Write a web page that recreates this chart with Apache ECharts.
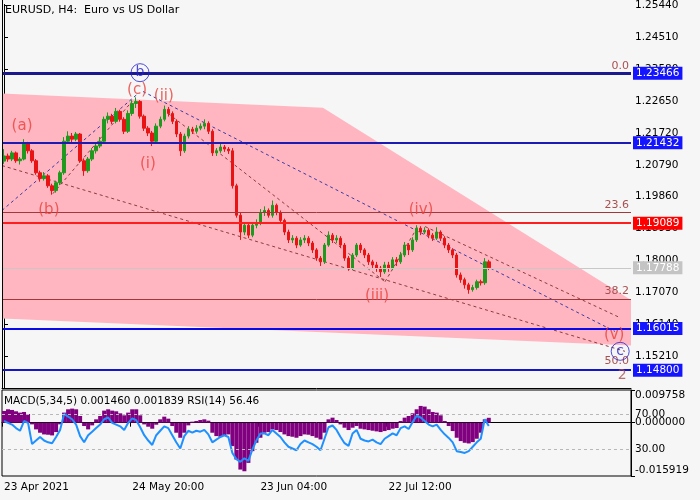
<!DOCTYPE html>
<html>
<head>
<meta charset="utf-8">
<script src="https://cdn.jsdelivr.net/npm/echarts@6/dist/echarts.min.js"></script>
<style>
html, body { margin: 0; padding: 0; background: #f6f6f6; }
#main { width: 700px; height: 500px; }
</style>
</head>
<body>
<div id="main"></div>
<script>
// EURUSD H4 - each candle here groups ~4 real H4 bars
var chartTitle = 'EURUSD, H4:  Euro vs US Dollar';
var indicatorTitle = 'MACD(5,34,5) 0.001460 0.001839 RSI(14) 56.46';
var barSlots = 157;
var timeLabels = ['23 Apr 2021', '24 May 20:00', '23 Jun 04:00', '22 Jul 12:00'];
var timeLabelBars = [0, 32, 64, 96];

// [open, close, low, high]
var candles = [
  [1.2090,1.2105,1.2082,1.2125],[1.2105,1.2096,1.2088,1.2112],[1.2096,1.2114,1.2090,1.2120],[1.2114,1.2091,1.2085,1.2118],[1.2091,1.2096,1.2080,1.2102],
  [1.2096,1.2140,1.2092,1.2154],[1.2140,1.2120,1.2112,1.2146],[1.2120,1.2091,1.2085,1.2125],[1.2091,1.2056,1.2050,1.2096],[1.2056,1.2039,1.2030,1.2062],
  [1.2039,1.2047,1.2033,1.2058],[1.2047,1.2018,1.2012,1.2052],[1.2018,1.2004,1.1992,1.2024],[1.2004,1.2027,1.1998,1.2033],[1.2027,1.2056,1.2020,1.2062],
  [1.2056,1.2148,1.2050,1.2160],[1.2148,1.2163,1.2140,1.2177],[1.2163,1.2154,1.2145,1.2172],[1.2154,1.2169,1.2148,1.2175],[1.2169,1.2091,1.2085,1.2172],
  [1.2091,1.2062,1.2047,1.2098],[1.2062,1.2096,1.2056,1.2102],[1.2096,1.2120,1.2090,1.2128],[1.2120,1.2134,1.2112,1.2142],[1.2134,1.2148,1.2128,1.2160],
  [1.2148,1.2212,1.2142,1.2220],[1.2212,1.2221,1.2200,1.2232],[1.2221,1.2206,1.2198,1.2228],[1.2206,1.2235,1.2200,1.2245],[1.2235,1.2212,1.2205,1.2240],
  [1.2212,1.2177,1.2169,1.2218],[1.2177,1.2229,1.2172,1.2238],[1.2229,1.2258,1.2222,1.2268],[1.2258,1.2264,1.2245,1.2276],[1.2264,1.2221,1.2214,1.2268],
  [1.2221,1.2186,1.2178,1.2226],[1.2186,1.2172,1.2163,1.2192],[1.2172,1.2148,1.2134,1.2178],[1.2148,1.2192,1.2142,1.2200],[1.2192,1.2212,1.2186,1.2220],
  [1.2212,1.2241,1.2206,1.2252],[1.2241,1.2229,1.2220,1.2248],[1.2229,1.2206,1.2198,1.2235],[1.2206,1.2169,1.2160,1.2212],[1.2169,1.2120,1.2105,1.2175],
  [1.2120,1.2163,1.2114,1.2170],[1.2163,1.2183,1.2156,1.2192],[1.2183,1.2177,1.2169,1.2190],[1.2177,1.2186,1.2170,1.2195],[1.2186,1.2192,1.2180,1.2200],
  [1.2192,1.2200,1.2183,1.2212],[1.2200,1.2177,1.2169,1.2206],[1.2177,1.2114,1.2105,1.2183],[1.2114,1.2120,1.2105,1.2128],[1.2120,1.2131,1.2114,1.2140],
  [1.2131,1.2125,1.2117,1.2137],[1.2125,1.2120,1.2111,1.2131],[1.2120,1.2018,1.2010,1.2128],[1.2018,1.1932,1.1925,1.2024],[1.1932,1.1883,1.1860,1.1940],
  [1.1883,1.1903,1.1874,1.1911],[1.1903,1.1874,1.1865,1.1911],[1.1874,1.1903,1.1868,1.1911],[1.1903,1.1911,1.1894,1.1920],[1.1911,1.1940,1.1903,1.1950],
  [1.1940,1.1946,1.1930,1.1958],[1.1946,1.1932,1.1925,1.1952],[1.1932,1.1961,1.1925,1.1975],[1.1961,1.1940,1.1932,1.1966],[1.1940,1.1917,1.1909,1.1946],
  [1.1917,1.1883,1.1874,1.1922],[1.1883,1.1860,1.1851,1.1890],[1.1860,1.1865,1.1851,1.1874],[1.1865,1.1845,1.1836,1.1871],[1.1845,1.1860,1.1840,1.1868],
  [1.1860,1.1865,1.1851,1.1874],[1.1865,1.1851,1.1842,1.1871],[1.1851,1.1831,1.1822,1.1857],[1.1831,1.1807,1.1799,1.1836],[1.1807,1.1796,1.1784,1.1813],
  [1.1796,1.1845,1.1790,1.1851],[1.1845,1.1874,1.1840,1.1885],[1.1874,1.1860,1.1851,1.1880],[1.1860,1.1865,1.1851,1.1874],[1.1865,1.1845,1.1836,1.1871],
  [1.1845,1.1807,1.1799,1.1851],[1.1807,1.1778,1.1770,1.1813],[1.1778,1.1816,1.1772,1.1822],[1.1816,1.1845,1.1810,1.1851],[1.1845,1.1831,1.1822,1.1851],
  [1.1831,1.1816,1.1807,1.1836],[1.1816,1.1796,1.1787,1.1822],[1.1796,1.1787,1.1778,1.1802],[1.1787,1.1778,1.1767,1.1796],[1.1778,1.1767,1.1752,1.1784],
  [1.1767,1.1787,1.1761,1.1796],[1.1787,1.1778,1.1767,1.1796],[1.1778,1.1802,1.1772,1.1810],[1.1802,1.1796,1.1784,1.1810],[1.1796,1.1816,1.1790,1.1825],
  [1.1816,1.1845,1.1810,1.1854],[1.1845,1.1831,1.1816,1.1851],[1.1831,1.1860,1.1825,1.1868],[1.1860,1.1894,1.1854,1.1903],[1.1894,1.1883,1.1874,1.1900],
  [1.1883,1.1888,1.1877,1.1897],[1.1888,1.1874,1.1865,1.1894],[1.1874,1.1865,1.1857,1.1880],[1.1865,1.1883,1.1860,1.1897],[1.1883,1.1865,1.1857,1.1888],
  [1.1865,1.1845,1.1836,1.1871],[1.1845,1.1831,1.1822,1.1851],[1.1831,1.1816,1.1807,1.1836],[1.1816,1.1758,1.1750,1.1822],[1.1758,1.1744,1.1735,1.1765],
  [1.1744,1.1729,1.1718,1.1750],[1.1729,1.1715,1.1703,1.1735],[1.1715,1.1721,1.1709,1.1729],[1.1721,1.1738,1.1715,1.1744],[1.1738,1.1735,1.1727,1.1744],
  [1.1735,1.1796,1.1729,1.1807],[1.1796,1.1779,1.1772,1.1802]
];

var macdHist = [
  0.0035, 0.0040, 0.0038, 0.0034, 0.0030, 0.0032, 0.0026, -0.0005, -0.0020, -0.0030,
  -0.0035, -0.0036, -0.0038, -0.0028, -0.0005, 0.0030, 0.0040, 0.0042, 0.0040, 0.0020,
  -0.0010, -0.0020, -0.0008, 0.0010, 0.0020, 0.0036, 0.0040, 0.0036, 0.0034, 0.0028,
  0.0022, 0.0030, 0.0040, 0.0040, 0.0022, -0.0005, -0.0012, -0.0018, -0.0006, 0.0010,
  0.0018, 0.0012, -0.0010, -0.0030, -0.0045, -0.0030, -0.0008, 0.0003, 0.0005, 0.0008,
  0.0010, 0.0006, -0.0030, -0.0040, -0.0042, -0.0038, -0.0035, -0.0070, -0.0110, -0.0140,
  -0.0145, -0.0120, -0.0085, -0.0060, -0.0045, -0.0030, -0.0028, -0.0020, -0.0022, -0.0028,
  -0.0035, -0.0040, -0.0042, -0.0045, -0.0040, -0.0035, -0.0036, -0.0040, -0.0045, -0.0050,
  -0.0030, 0.0010, 0.0015, 0.0008, -0.0005, -0.0015, -0.0022, -0.0015, -0.0010, -0.0018,
  -0.0020, -0.0022, -0.0024, -0.0026, -0.0028, -0.0025, -0.0022, -0.0018, -0.0016, 0.0005,
  0.0015, 0.0020, 0.0028, 0.0040, 0.0050, 0.0048, 0.0040, 0.0032, 0.0030, 0.0022,
  0.0005, -0.0010, -0.0025, -0.0045, -0.0055, -0.0060, -0.0062, -0.0058, -0.0048, -0.0030,
  0.0010, 0.00146
];

var rsi = [
  62, 60, 58, 54, 51, 62, 60, 36, 40, 44,
  40, 38, 37, 44, 52, 70, 67, 64, 58, 45,
  38, 46, 50, 54, 58, 64, 66, 60, 58, 56,
  52, 60, 65, 63, 55, 46, 40, 35, 46, 51,
  56, 54, 46, 38, 31, 45, 51, 49, 51, 50,
  52, 47, 38, 41, 44, 46, 44, 26, 19, 16,
  20, 17, 30, 40, 48, 48, 46, 52, 48, 44,
  38, 33, 31, 29, 36, 40, 38, 36, 33, 29,
  42, 55, 57, 52, 44, 37, 34, 48, 52, 42,
  40, 39, 41, 38, 36, 42, 45, 48, 46, 54,
  56, 53, 61, 68, 66, 62, 58, 56, 58, 52,
  47, 43, 38, 28, 27, 26, 28, 33, 38, 42,
  64, 56.46
];

var priceMin = 1.14280, priceMax = 1.25470, priceStep = 0.0093;
var macdMin = -0.015919, macdMax = 0.009758;
var rsiMax = 97;
var rsiLevels = [70, 30];

// horizontal support / resistance lines
var levelPrices = [1.23466, 1.21432, 1.19089, 1.16015, 1.14800];
var levelColors = ['#1a1a8e', '#1c1cb4', '#ff1e1e', '#0a0ae6', '#1414c8'];
var levelBoxColors = ['#1414ff', '#1414ff', '#ff0000', '#1414ff', '#1414ff'];
var levelWidths = [3, 2, 2, 2, 2];
var bidPrice = 1.17788;

var fibNames = ['0.0', '23.6', '38.2', '50.0'];
var fibPrices = [1.23466, 1.19395, 1.16880, 1.14840];

// pink zone outline, [bar position, price]
var zoneBars = [-0.5, 79.6, 156.5, 156.5, -0.5];
var zonePrices = [1.2287, 1.2246, 1.1685, 1.1552, 1.1631];

// dashed wave lines: [bar1, price1, bar2, price2, colour 0 = blue, 1 = brown]
var waveLines = [
  [-0.5, 1.1946, 33.45, 1.2287, 0],
  [34.7, 1.2293, 152.5, 1.1593, 0],
  [-0.5, 1.2077, 155.0, 1.1535, 1],
  [41.0, 1.2229, 95.1, 1.1738, 1],
  [95.1, 1.1738, 103.3, 1.1899, 1],
  [105.1, 1.1899, 153.8, 1.1633, 1],
  [12.2, 1.1995, 31.95, 1.2264, 1]
];

var waveTexts = ['(a)', '(b)', '(c)', '(i)', '(ii)', '(iii)', '(iv)', '(v)'];
var waveBars = [4.5, 11.2, 33.2, 35.9, 39.9, 93.1, 104.1, 152.3];
var wavePrices = [1.2191, 1.1946, 1.2298, 1.2082, 1.2281, 1.1697, 1.1946, 1.1581];

var circleTexts = ['b', 'c'];
var circleBars = [33.95, 153.8];
var circlePrices = [1.2348, 1.1535];

// small fib tag under the 50.0 level
var fibTagText = '2';
var fibTagBar = 154.3;
var fibTagPrice = 1.1466;

var cats = [];
for (var i = 0; i < barSlots; i++) cats.push(String(i));

function isTimeLabel(index) { return timeLabelBars.indexOf(index) >= 0; }

var chart = echarts.init(document.getElementById('main'));

var font = 'DejaVu Sans';
var lineColors = ['#3a3aa8', '#8c3c3c'];

chart.setOption({
  animation: false,
  backgroundColor: '#f6f6f6',
  textStyle: { fontFamily: font },
  grid: [
    { left: 2, top: 2, width: 629, height: 386, show: false },
    { left: 2, top: 390, width: 629, height: 86, show: true, borderColor: '#000', borderWidth: 1, backgroundColor: 'transparent' }
  ],
  graphic: [
    { type: 'line', z: 100, shape: { x1: 2.5, y1: 0, x2: 2.5, y2: 388 }, style: { stroke: '#000', lineWidth: 1 }, silent: true },
    { type: 'text', left: 5, top: 5, style: { text: chartTitle, font: '11px "DejaVu Sans"', fill: '#000' } },
    { type: 'text', left: 4, top: 396, style: { text: indicatorTitle, font: '10.5px "DejaVu Sans"', fill: '#000' } }
  ],
  xAxis: [
    { type: 'category', gridIndex: 0, data: cats, boundaryGap: true,
      axisLine: { show: true, lineStyle: { color: '#000', width: 1 } },
      axisTick: { show: false }, axisLabel: { show: false }, splitLine: { show: false } },
    { type: 'value', gridIndex: 0, min: -0.5, max: barSlots - 0.5, show: false },
    { type: 'category', gridIndex: 1, data: cats, boundaryGap: true,
      axisLine: { show: true, lineStyle: { color: '#000' } },
      axisTick: { show: true, interval: isTimeLabel, length: 4, lineStyle: { color: '#000' } },
      axisLabel: { show: true, interval: isTimeLabel, align: 'left', margin: 6, color: '#000', fontSize: 10.5,
        formatter: function (v, idx) { var k = timeLabelBars.indexOf(idx); return k >= 0 ? timeLabels[k] : ''; } },
      splitLine: { show: false } }
  ],
  yAxis: [
    { type: 'value', gridIndex: 0, position: 'right', min: priceMin, max: priceMax, interval: priceStep,
      axisLine: { show: true, lineStyle: { color: '#000' } },
      axisTick: { show: true, length: 4, lineStyle: { color: '#000' } },
      axisLabel: { color: '#000', fontSize: 10.5, margin: 4, showMinLabel: false, showMaxLabel: false,
        formatter: function (v) { return v.toFixed(5); } },
      splitLine: { show: false } },
    { type: 'value', gridIndex: 1, position: 'right', min: macdMin, max: macdMax, interval: -macdMin,
      axisLine: { show: true, lineStyle: { color: '#000' } },
      axisTick: { show: true, length: 4, lineStyle: { color: '#000' } },
      axisLabel: { color: '#000', fontSize: 10.5, margin: 4, showMinLabel: true, showMaxLabel: true,
        verticalAlignMaxLabel: 'top', verticalAlignMinLabel: 'bottom',
        formatter: function (v) { return Math.abs(v) < 1e-9 ? '0.000000' : v.toFixed(6); } },
      splitLine: { show: false } },
    { type: 'value', gridIndex: 1, position: 'right', min: 0, max: rsiMax, interval: 10,
      axisLine: { show: false }, axisTick: { show: false },
      axisLabel: { color: '#000', fontSize: 10.5, margin: 4, showMinLabel: false, showMaxLabel: false,
        formatter: function (v) { return rsiLevels.indexOf(v) >= 0 ? v.toFixed(2) : ''; } },
      splitLine: { show: false } }
  ],
  series: [
    {
      name: 'zone', type: 'custom', xAxisIndex: 1, yAxisIndex: 0, z: 1, silent: true,
      data: [[zoneBars[0], zonePrices[0]]],
      renderItem: function (params, api) {
        var pts = zoneBars.map(function (b, k) { return api.coord([b, zonePrices[k]]); });
        return { type: 'polygon', shape: { points: pts }, style: { fill: '#ffb6c1' } };
      }
    },
    {
      name: 'waves', type: 'custom', xAxisIndex: 1, yAxisIndex: 0, z: 2, silent: true,
      data: waveLines,
      encode: { x: [0, 2], y: [1, 3] },
      renderItem: function (params, api) {
        var a = api.coord([api.value(0), api.value(1)]);
        var b = api.coord([api.value(2), api.value(3)]);
        return { type: 'line', shape: { x1: a[0], y1: a[1], x2: b[0], y2: b[1] },
          style: { stroke: lineColors[api.value(4)], lineWidth: 1, lineDash: [3, 3], fill: null } };
      },
      markLine: {
        silent: true, symbol: ['none', 'none'], animation: false, precision: 5,
        data: fibPrices.map(function (p, k) {
          return { yAxis: p, name: fibNames[k] };
        }),
        lineStyle: { color: '#a0383c', width: 1, type: 'solid' },
        label: { show: true, position: 'insideEndTop', formatter: '{b}', color: '#a85050', fontSize: 11, distance: 2 }
      }
    },
    {
      name: 'EURUSD', type: 'candlestick', xAxisIndex: 0, yAxisIndex: 0, z: 3,
      data: candles, barWidth: 3,
      itemStyle: { color: '#1f9a1f', color0: '#e81414', borderColor: '#1f9a1f', borderColor0: '#e81414', borderWidth: 1 },
      markLine: {
        silent: true, symbol: ['none', 'none'], animation: false, precision: 5,
        data: levelPrices.map(function (p, k) {
          return { yAxis: p, lineStyle: { color: levelColors[k], width: levelWidths[k], type: 'solid' },
            label: { backgroundColor: levelBoxColors[k] } };
        }).concat([{ yAxis: bidPrice, lineStyle: { color: '#c8c8c8', width: 1, type: 'solid' },
            label: { backgroundColor: '#c4c4c4' } }]),
        label: { show: true, position: 'end', distance: 2, color: '#fff', fontSize: 10.5, padding: [1, 3, 1, 3],
          formatter: function (p) { return Number(p.value).toFixed(5); } }
      }
    },
    {
      name: 'labels', type: 'scatter', xAxisIndex: 1, yAxisIndex: 0, z: 6, silent: true,
      symbolSize: 1, itemStyle: { color: 'rgba(0,0,0,0)' },
      data: waveTexts.map(function (t, k) { return { name: t, value: [waveBars[k], wavePrices[k]] }; }),
      label: { show: true, position: 'inside', formatter: '{b}', color: '#e8403a', fontSize: 15 }
    },
    {
      name: 'fibTag', type: 'scatter', xAxisIndex: 1, yAxisIndex: 0, z: 6, silent: true,
      symbolSize: 1, itemStyle: { color: 'rgba(0,0,0,0)' },
      data: [{ name: fibTagText, value: [fibTagBar, fibTagPrice] }],
      label: { show: true, position: 'inside', formatter: '{b}', color: '#a85050', fontSize: 14 }
    },
    {
      name: 'circles', type: 'scatter', xAxisIndex: 1, yAxisIndex: 0, z: 6, silent: true,
      symbol: 'circle', symbolSize: 18,
      itemStyle: { color: 'rgba(0,0,0,0)', borderColor: '#2020d0', borderWidth: 1 },
      data: circleTexts.map(function (t, k) { return { name: t, value: [circleBars[k], circlePrices[k]] }; }),
      label: { show: true, position: 'inside', formatter: '{b}', color: '#2020d0', fontSize: 14 }
    },
    {
      name: 'MACD', type: 'bar', xAxisIndex: 2, yAxisIndex: 1, z: 2,
      data: macdHist, barWidth: '100%', barCategoryGap: '0%',
      itemStyle: { color: '#800080' }
    },
    {
      name: 'RSI', type: 'line', xAxisIndex: 2, yAxisIndex: 2, z: 3,
      data: rsi, symbol: 'none', smooth: false,
      lineStyle: { color: '#1e90ff', width: 2 },
      markLine: {
        silent: true, symbol: ['none', 'none'], animation: false,
        data: rsiLevels.map(function (v) { return { yAxis: v }; }),
        lineStyle: { color: '#b8b8b8', width: 1, type: [3, 3] },
        label: { show: false }
      }
    }
  ]
});
</script>
</body>
</html>
